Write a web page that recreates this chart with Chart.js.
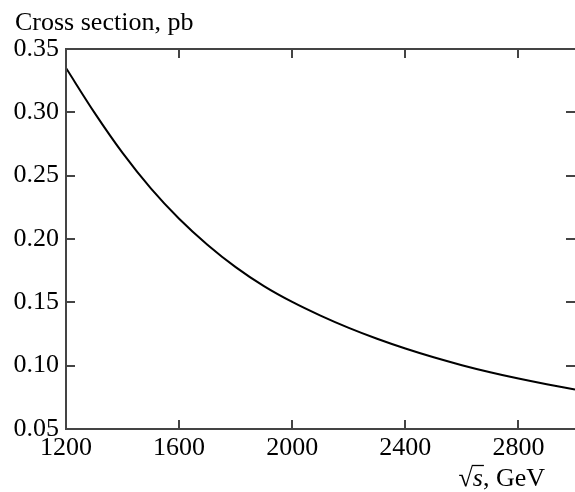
<!DOCTYPE html>
<html>
<head>
<meta charset="utf-8">
<script src="https://cdn.jsdelivr.net/npm/chart.js@4/dist/chart.umd.min.js"></script>
<style>
  html, body { margin: 0; padding: 0; background: #fff; }
  #wrap { width: 575px; height: 492px; }
</style>
</head>
<body>
<div id="wrap"><canvas id="c" width="575" height="492"></canvas></div>
<script>
// Centre-of-mass energy, GeV
const energies = [1200, 1300, 1400, 1500, 1600, 1700, 1800, 1900, 2000, 2100,
                  2200, 2300, 2400, 2500, 2600, 2700, 2800, 2900, 3000];
// Cross section, pb
const crossSection = [0.335, 0.300, 0.268, 0.240, 0.216, 0.1955, 0.1778, 0.1628, 0.1503, 0.1395,
                      0.1298, 0.1212, 0.1135, 0.1066, 0.1004, 0.0948, 0.0898, 0.0853, 0.0812];

const xTicks = [1200, 1600, 2000, 2400, 2800];
const yTicks = [0.05, 0.10, 0.15, 0.20, 0.25, 0.30, 0.35];
const xRange = [1200, 3000];
const yRange = [0.05, 0.35];

const yTitle = 'Cross section, pb';
const FONT = '"Liberation Serif", "Times New Roman", serif';
const AXIS_COLOR = '#444';
const TICK_LEN = 9;

// Frame (left, top, bottom), inward tick marks on all four sides, and axis titles
const framePlugin = {
  id: 'frame',
  afterDatasetsDraw(chart) {
    const { ctx, chartArea: a, scales: { x, y } } = chart;
    ctx.save();
    ctx.strokeStyle = AXIS_COLOR;
    ctx.lineWidth = 2;
    ctx.beginPath();
    ctx.moveTo(a.right + 2, a.top); ctx.lineTo(a.left, a.top);
    ctx.lineTo(a.left, a.bottom); ctx.lineTo(a.right + 2, a.bottom);
    xTicks.forEach(v => {
      const px = Math.round(x.getPixelForValue(v));
      ctx.moveTo(px, a.bottom); ctx.lineTo(px, a.bottom - TICK_LEN);
      ctx.moveTo(px, a.top); ctx.lineTo(px, a.top + TICK_LEN);
    });
    yTicks.forEach(v => {
      const py = Math.round(y.getPixelForValue(v));
      ctx.moveTo(a.left, py); ctx.lineTo(a.left + TICK_LEN, py);
      ctx.moveTo(a.right, py); ctx.lineTo(a.right - TICK_LEN, py);
    });
    ctx.stroke();

    // y-axis title, above the plot
    ctx.fillStyle = '#000';
    ctx.textBaseline = 'alphabetic';
    ctx.textAlign = 'left';
    ctx.font = '26px ' + FONT;
    ctx.fillText(yTitle, 15, 30);

    // x-axis title: √s, GeV  (s in italics under the radical bar)
    const base = 486;
    const right = 545;
    const upright = '26px ' + FONT;
    const italic = 'italic 26px ' + FONT;
    ctx.font = upright;
    const wRad = ctx.measureText('\u221A').width;
    const wTail = ctx.measureText(', GeV').width;
    ctx.font = italic;
    const wS = ctx.measureText('s').width;
    let xs = right - wTail - wS - wRad;
    ctx.font = upright;
    ctx.fillText('\u221A', xs, base);
    xs += wRad;
    ctx.font = italic;
    ctx.fillText('s', xs, base);
    ctx.lineWidth = 1.3;
    ctx.strokeStyle = '#000';
    ctx.beginPath();
    ctx.moveTo(xs - 1, base - 20.5);
    ctx.lineTo(xs + wS + 1, base - 20.5);
    ctx.stroke();
    xs += wS;
    ctx.font = upright;
    ctx.fillText(', GeV', xs, base);
    ctx.restore();
  }
};

new Chart(document.getElementById('c'), {
  type: 'line',
  data: {
    labels: energies,
    datasets: [{
      data: energies.map((e, i) => ({ x: e, y: crossSection[i] })),
      borderColor: '#000',
      borderWidth: 2,
      pointRadius: 0,
      fill: false,
      cubicInterpolationMode: 'monotone'
    }]
  },
  options: {
    responsive: false,
    animation: false,
    devicePixelRatio: 1,
    layout: { padding: { top: 49, right: 0, left: 0, bottom: 0 } },
    plugins: { legend: { display: false }, tooltip: { enabled: false } },
    scales: {
      x: {
        type: 'linear',
        min: xRange[0], max: xRange[1],
        afterBuildTicks: s => { s.ticks = xTicks.map(v => ({ value: v })); },
        afterFit: s => { s.height = 63; s.paddingRight = 0; s.paddingLeft = 0; },
        grid: { display: false, drawTicks: false },
        border: { display: false },
        ticks: {
          color: '#000', padding: 4, maxRotation: 0, autoSkip: false,
          font: { family: FONT, size: 26 },
          callback: v => String(v)
        }
      },
      y: {
        type: 'linear',
        min: yRange[0], max: yRange[1],
        afterBuildTicks: s => { s.ticks = yTicks.map(v => ({ value: v })); },
        afterFit: s => { s.width = 66; },
        grid: { display: false, drawTicks: false },
        border: { display: false },
        ticks: {
          color: '#000', padding: 7, autoSkip: false,
          font: { family: FONT, size: 26 },
          callback: v => Number(v).toFixed(2)
        }
      }
    }
  },
  plugins: [framePlugin]
});
</script>
</body>
</html>
